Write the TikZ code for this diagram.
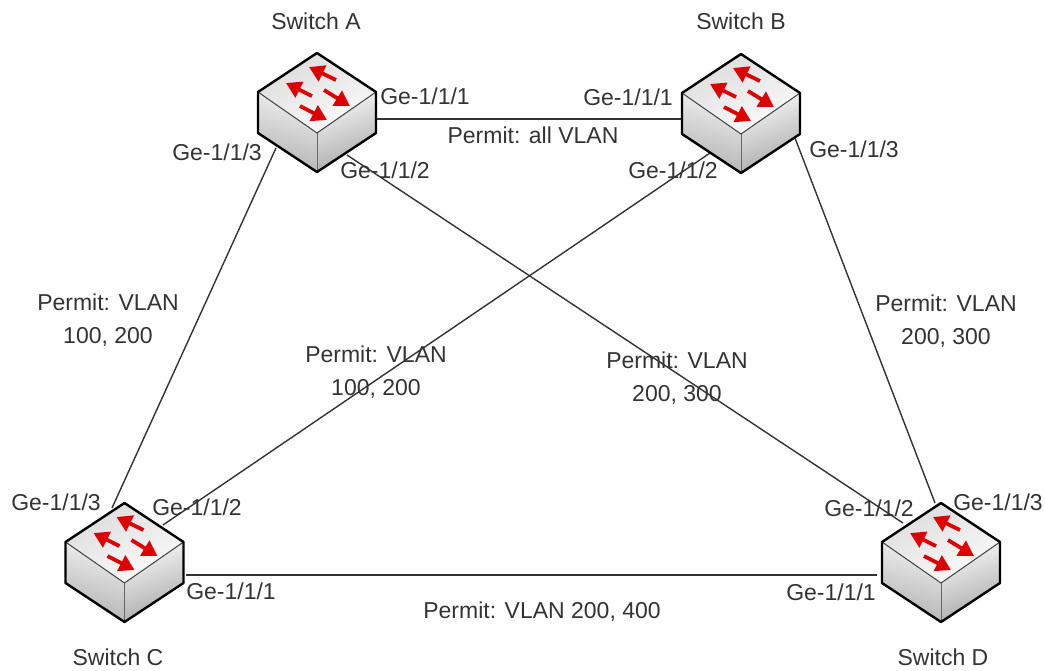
\documentclass[tikz,border=0pt]{standalone}
\usepackage{fontspec}
\setmainfont{Liberation Sans}
\usetikzlibrary{arrows.meta}
\definecolor{txtgray}{HTML}{333333}
\definecolor{linkgray}{HTML}{333333}
\definecolor{arrowred}{HTML}{DD0000}
\tikzset{
  lbl/.style={font=\fontsize{23}{33}\selectfont,text=txtgray,inner sep=0pt,align=center},
  link/.style={linkgray,line width=1.4pt},
  redarrow/.style={arrowred,line width=3.8pt,-{Triangle[length=15pt,width=17pt]}},
  switch/.pic={
    % faces, origin at top corner
    \shade[top color=black!6,bottom color=black!30,shading angle=-15] (-59,39)--(0,80)--(0,119)--(-59,80)--cycle;
    \shade[top color=black!3,bottom color=black!34,shading angle=20] (0,80)--(59,39)--(59,80)--(0,119)--cycle;
    \shade[top color=black!14,bottom color=black!1,shading angle=25] (0,0)--(59,39)--(0,80)--(-59,39)--cycle;
    \draw[black!75,line width=1pt] (-59,39)--(0,80)--(59,39);
    \draw[black!60,line width=1pt] (0,80)--(0,119);
    \draw[black,line width=2.4pt,line join=round] (0,0)--(59,39)--(59,80)--(0,119)--(-59,80)--(-59,39)--cycle;
    \draw[redarrow] (19,27)--(-8,14);
    \draw[redarrow] (-5,43)--(-31,30);
    \draw[redarrow] (7,37)--(33,53);
    \draw[redarrow] (-17,53)--(10,67);
  }
}
\begin{document}
\begin{tikzpicture}[x=1pt,y=-1pt]
\useasboundingbox (0,0) rectangle (1045,670);
% link ends
\coordinate (a1) at (377,119);
\coordinate (a2) at (347,155);
\coordinate (a3) at (276,148);
\coordinate (b1) at (683,119);
\coordinate (b2) at (710,153);
\coordinate (b3) at (795,138);
\coordinate (c1) at (186,575);
\coordinate (c2) at (163,525);
\coordinate (c3) at (112,508);
\coordinate (d1) at (877,575);
\coordinate (d2) at (903,523);
\coordinate (d3) at (935,503);
\draw[link] (a1)--(b1);
\draw[link] (a2)--(d2);
\draw[link] (a3)--(c3);
\draw[link] (b2)--(c2);
\draw[link] (b3)--(d3);
\draw[link] (c1)--(d1);
% switches
\pic at (317,53) {switch};
\pic at (741,54) {switch};
\pic at (124.5,503) {switch};
\pic at (941,503) {switch};
\node[lbl] (nameA) at (316,21) {Switch A};
\node[lbl] (nameB) at (741,21) {Switch B};
\node[lbl] (nameC) at (118,657) {Switch C};
\node[lbl] (nameD) at (943,657) {Switch D};
% ports
\node[lbl] (a1lbl) at (425,96) {Ge-1/1/1};
\node[lbl] (a2lbl) at (385,170) {Ge-1/1/2};
\node[lbl] (a3lbl) at (217,152) {Ge-1/1/3};
\node[lbl] (b1lbl) at (628,97) {Ge-1/1/1};
\node[lbl] (b2lbl) at (673,170) {Ge-1/1/2};
\node[lbl] (b3lbl) at (854,149) {Ge-1/1/3};
\node[lbl] (c1lbl) at (231,591) {Ge-1/1/1};
\node[lbl] (c2lbl) at (197,507) {Ge-1/1/2};
\node[lbl] (c3lbl) at (56,502) {Ge-1/1/3};
\node[lbl] (d1lbl) at (831,592) {Ge-1/1/1};
\node[lbl] (d2lbl) at (869,508) {Ge-1/1/2};
\node[lbl] (d3lbl) at (998,502) {Ge-1/1/3};
% permits
\node[lbl] (permitAB) at (533,135) {Permit: all VLAN};
\node[lbl] (permitAC) at (108,320) {Permit: VLAN\\100, 200};
\node[lbl] (permitBC) at (376,372) {Permit: VLAN\\100, 200};
\node[lbl] (permitAD) at (677,378) {Permit: VLAN\\200, 300};
\node[lbl] (permitBD) at (946,321) {Permit: VLAN\\200, 300};
\node[lbl] (permitCD) at (542,612) {Permit: VLAN 200, 400};
\end{tikzpicture}
\end{document}
